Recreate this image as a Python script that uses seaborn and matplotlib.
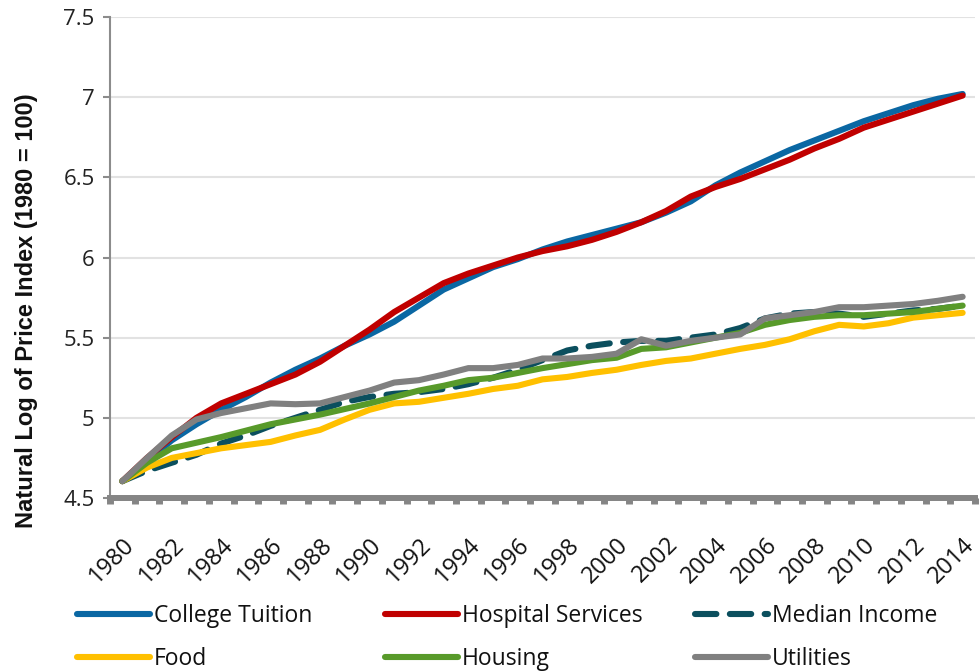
import matplotlib
matplotlib.use("Agg")
import matplotlib.pyplot as plt
import matplotlib.transforms as mtransforms
import seaborn as sns
import pandas as pd
from matplotlib.lines import Line2D

years = list(range(1980, 2015))

college_tuition = [4.605, 4.73, 4.86, 4.96, 5.05, 5.13, 5.22, 5.30, 5.37, 5.45,
                   5.52, 5.60, 5.70, 5.80, 5.87, 5.94, 5.99, 6.05, 6.10, 6.14,
                   6.18, 6.22, 6.28, 6.35, 6.45, 6.53, 6.60, 6.67, 6.73, 6.79,
                   6.85, 6.90, 6.95, 6.99, 7.02]
hospital_services = [4.605, 4.75, 4.88, 5.00, 5.09, 5.15, 5.21, 5.27, 5.35, 5.45,
                     5.55, 5.66, 5.75, 5.84, 5.90, 5.95, 6.00, 6.04, 6.07, 6.11,
                     6.16, 6.22, 6.29, 6.38, 6.44, 6.49, 6.55, 6.61, 6.68, 6.74,
                     6.81, 6.86, 6.91, 6.96, 7.01]
median_income = [4.605, 4.67, 4.72, 4.77, 4.84, 4.89, 4.95, 5.00, 5.05, 5.10,
                 5.13, 5.15, 5.16, 5.18, 5.21, 5.25, 5.30, 5.36, 5.42, 5.45,
                 5.47, 5.48, 5.48, 5.50, 5.52, 5.56, 5.62, 5.65, 5.66, 5.65,
                 5.63, 5.65, 5.67, 5.68, 5.70]
food = [4.605, 4.69, 4.75, 4.78, 4.81, 4.83, 4.85, 4.89, 4.925, 4.99,
        5.05, 5.09, 5.10, 5.125, 5.15, 5.18, 5.20, 5.24, 5.255, 5.28,
        5.30, 5.33, 5.355, 5.37, 5.40, 5.43, 5.455, 5.49, 5.54, 5.58,
        5.57, 5.59, 5.625, 5.64, 5.655]
housing = [4.605, 4.72, 4.81, 4.845, 4.88, 4.92, 4.96, 4.99, 5.02, 5.055,
           5.09, 5.13, 5.17, 5.20, 5.235, 5.25, 5.28, 5.31, 5.335, 5.36,
           5.375, 5.43, 5.44, 5.47, 5.50, 5.53, 5.58, 5.61, 5.63, 5.64,
           5.64, 5.65, 5.66, 5.68, 5.70]
utilities = [4.605, 4.75, 4.89, 4.99, 5.03, 5.06, 5.09, 5.085, 5.09, 5.13,
             5.17, 5.22, 5.235, 5.27, 5.31, 5.31, 5.33, 5.37, 5.37, 5.38,
             5.40, 5.49, 5.45, 5.48, 5.50, 5.52, 5.62, 5.64, 5.66, 5.69,
             5.69, 5.70, 5.71, 5.73, 5.755]

series_names = ["College Tuition", "Hospital Services", "Median Income",
                "Food", "Housing", "Utilities"]
series_values = [college_tuition, hospital_services, median_income,
                 food, housing, utilities]
colors = ["#0A67A3", "#C00000", "#0B4F5E", "#FFC000", "#589A2A", "#808080"]

y_ticks = [4.5, 5, 5.5, 6, 6.5, 7, 7.5]
y_tick_labels = ["4.5", "5", "5.5", "6", "6.5", "7", "7.5"]

sns.set_theme(style="white")
plt.rcParams['font.family'] = ['Open Sans', 'DejaVu Sans']

W, H = 980, 672
fig = plt.figure(figsize=(W / 100, H / 100), dpi=100)
ax = fig.add_axes([110 / W, 1 - 498 / H, 865 / W, 481 / H])

lw = 4.4
dash = [3.5, 2.2]
pos = list(range(len(years)))
for name, vals, col in zip(series_names, series_values, colors):
    df = pd.DataFrame({"x": pos, "y": vals})
    sns.lineplot(data=df, x="x", y="y", ax=ax, color=col, linewidth=lw)
    line = ax.lines[-1]
    line.set_solid_capstyle("round")
    line.set_dash_capstyle("round")
    line.set_solid_joinstyle("round")
    if name == "Median Income":
        line.set_dashes(dash)

ax.set_xlim(-0.5, len(years) - 0.5)
ax.set_ylim(4.5, 7.5)
ax.set_yticks(y_ticks)
ax.set_yticklabels(y_tick_labels, fontsize=16, color="#222222")
ax.set_xticks(pos[::2])
ax.set_xticklabels([str(y) for y in years[::2]], rotation=45, ha="right",
                   rotation_mode="anchor", fontsize=17, color="#111111")
shift = mtransforms.ScaledTranslation(-15 / 100, 0, fig.dpi_scale_trans)
for lab in ax.get_xticklabels():
    lab.set_transform(lab.get_transform() + shift)
ax.set_xticks([p - 0.5 for p in pos] + [len(years) - 0.5], minor=True)

ax.grid(axis="y", color="#E2E2E2", linewidth=1.5)
ax.set_axisbelow(True)
for s in ["top", "right"]:
    ax.spines[s].set_visible(False)
ax.spines["left"].set_color("#8C8C8C")
ax.spines["left"].set_linewidth(1.5)
ax.spines["bottom"].set_color("#858585")
ax.spines["bottom"].set_linewidth(4.3)
ax.spines["bottom"].set_zorder(5)
ax.tick_params(axis="y", which="major", length=5, width=1.5, color="#8C8C8C",
               left=True, pad=6)
ax.tick_params(axis="x", which="major", length=0, pad=25)
ax.tick_params(axis="x", which="minor", length=4.5, width=5, color="#858585",
               bottom=True)

ax.set_xlabel("")
ax.set_ylabel("Natural Log of Price Index (1980 = 100)", fontsize=17,
              fontweight="bold", color="#111111",
              family=["Liberation Sans", "DejaVu Sans"])
ax.yaxis.label.set_va("center")
ax.yaxis.set_label_coords((27 - 110) / 865, (498 - 311) / 481)

# legend: three columns placed like the reference
legend_cols = [[0, 3], [1, 4], [2, 5]]
col_x = [77, 385, 695]
fs = 16.5
for cols, x0 in zip(legend_cols, col_x):
    handles = []
    for i in cols:
        h = Line2D([0], [0], color=colors[i], linewidth=lw,
                   solid_capstyle="round", dash_capstyle="round")
        if series_names[i] == "Median Income":
            h.set_dashes(dash)
        handles.append(h)
    leg = fig.legend(handles, [series_names[i] for i in cols],
                     loc="upper left", bbox_to_anchor=(x0 / W, 1 - 604 / H),
                     frameon=False, fontsize=fs, handlelength=3.2,
                     handletextpad=0.15, labelspacing=0.85,
                     borderpad=0, borderaxespad=0)
    for t in leg.get_texts():
        t.set_color("#111111")

fig.savefig("out.png", dpi=100)
